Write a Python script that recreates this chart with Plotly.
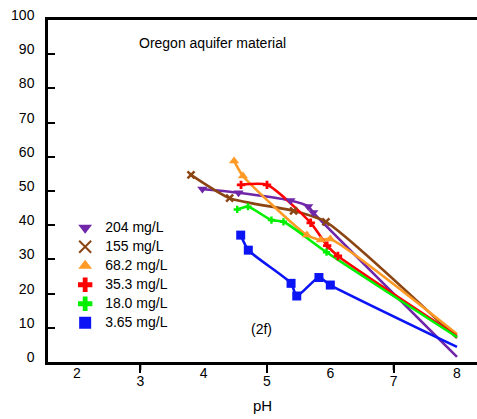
import plotly.graph_objects as go

# ---- data ----
names = ["204 mg/L", "155 mg/L", "68.2 mg/L", "35.3 mg/L", "18.0 mg/L", "3.65 mg/L"]

ph_204 = [3.98, 4.55, 5.37, 5.65, 5.73]
val_204 = [50.6, 49.5, 47.2, 45.5, 43.7]
end_204 = 1.5

ph_155 = [3.80, 4.41, 5.42, 5.93]
val_155 = [54.7, 47.9, 44.2, 41.0]
end_155 = 7.0

ph_682 = [4.48, 4.62, 5.63, 5.85, 6.00]
val_682 = [58.8, 54.4, 37.1, 35.7, 36.0]
end_682 = 8.2

ph_353 = [4.59, 5.00, 5.69, 5.95, 6.12]
val_353 = [51.8, 51.8, 40.7, 34.0, 31.0]
end_353 = 7.6

ph_180 = [4.53, 4.70, 5.07, 5.26, 5.94]
val_180 = [44.6, 45.4, 41.5, 41.0, 32.1]
end_180 = 7.3

ph_365 = [4.585, 4.705, 5.38, 5.47, 5.82, 6.00]
val_365 = [37.1, 32.7, 23.0, 19.3, 24.7, 22.5]
end_365 = 4.4

end_ph = 8.0

x_ticks_even = [2, 4, 6, 8]
x_ticks_odd = [3, 5, 7]
y_ticks = [0, 10, 20, 30, 40, 50, 60, 70, 80, 90, 100]
y_minor = [10, 20, 30, 40, 50, 60, 70, 80, 90]

# ---- styles ----
series = [
    (ph_204, val_204, end_204, "#7026A8", "triangle-down", 9),
    (ph_155, val_155, end_155, "#8B4513", "x-thin", 7),
    (ph_682, val_682, end_682, "#FF9A26", "triangle-up", 9),
    (ph_353, val_353, end_353, "#FF0000", "cross", 7),
    (ph_180, val_180, end_180, "#00F000", "cross", 6),
    (ph_365, val_365, end_365, "#0A14F5", "square", 9),
]

FONT = "Liberation Sans, Arial, sans-serif"
PLOT_H = 419 - 20 - 57
TICK_LEN = 8

fig = go.Figure()

for name, (xs, ys, ye, col, sym, sz) in zip(names, series):
    fig.add_trace(go.Scatter(
        x=xs + [end_ph], y=ys + [ye], mode="lines",
        line=dict(color=col, width=2.6, shape="spline", smoothing=0.6),
        showlegend=False, hoverinfo="skip"))

for name, (xs, ys, ye, col, sym, sz) in zip(names, series):
    mk = dict(color=col, symbol=sym, size=sz)
    if sym == "x-thin":
        mk["line"] = dict(color=col, width=2.5)
    fig.add_trace(go.Scatter(
        x=xs, y=ys, mode="markers",
        name='<span style="font-size:14px">' + name + '</span>',
        marker=mk))

# invisible trace to create the second (even-label) x axis
fig.add_trace(go.Scatter(x=[None], y=[None], xaxis="x2", showlegend=False))

xr = [1.542, 8.316]
fig.update_layout(
    width=477, height=419,
    margin=dict(l=48, r=0, t=20, b=57),
    paper_bgcolor="white", plot_bgcolor="white",
    font=dict(family=FONT, size=14, color="black"),
    xaxis=dict(
        range=xr, showgrid=False, zeroline=False,
        showline=True, linecolor="black", linewidth=2.5, mirror=True,
        tickvals=x_ticks_odd, ticktext=[str(v) for v in x_ticks_odd],
        ticks="outside", ticklen=TICK_LEN, tickwidth=2, tickcolor="black",
        ticklabelstandoff=-4,
        title=dict(text="pH", standoff=13, font=dict(size=15)),
    ),
    xaxis2=dict(
        range=xr, overlaying="x", side="bottom", anchor="y",
        showgrid=False, zeroline=False, showline=False,
        tickvals=x_ticks_even, ticktext=[str(v) for v in x_ticks_even],
        ticks="", ticklabelstandoff=1,
    ),
    yaxis=dict(
        range=[0, 100], showgrid=False, zeroline=False,
        showline=True, linecolor="black", linewidth=2.5,
        tickvals=y_ticks, ticktext=[str(v) for v in y_ticks],
        ticks="", ticklabelstandoff=8, ticklabelshift=-5,
        minor=dict(tickvals=y_minor, ticks="inside", ticklen=7,
                   tickwidth=2, tickcolor="black"),
    ),
    legend=dict(
        x=0.04, y=0.435, xanchor="left", yanchor="top",
        bgcolor="rgba(0,0,0,0)", font=dict(size=12),
        tracegroupgap=0, itemsizing="constant",
    ),
    showlegend=True,
)

# tick marks below the axis at the odd pH values
for v in x_ticks_odd:
    fig.add_shape(type="line", xref="x", yref="paper",
                  x0=v, x1=v, y0=0, y1=-TICK_LEN / PLOT_H,
                  line=dict(color="black", width=2), layer="above")

fig.add_annotation(x=2.95, y=93.3, text="Oregon aquifer material",
                   showarrow=False, xanchor="left", yanchor="middle",
                   font=dict(size=14))
fig.add_annotation(x=4.92, y=9.6, text="(2f)", showarrow=False,
                   xanchor="center", yanchor="middle", font=dict(size=14))

fig.write_html("out.html")
